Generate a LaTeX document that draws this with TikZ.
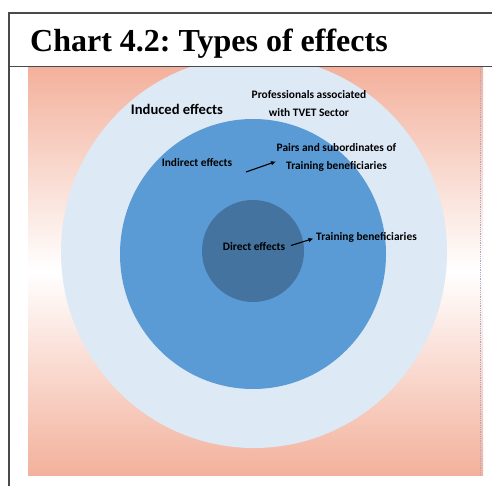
\documentclass[tikz,border=0pt]{standalone}
\usepackage{fontspec}
\setmainfont{Liberation Serif}
\newfontfamily\lblfont{Carlito}
\usetikzlibrary{arrows.meta}
\frenchspacing
\definecolor{frameline}{HTML}{4A4A4A}
\definecolor{salmon}{HTML}{F3B19C}
\definecolor{ringout}{HTML}{DEE9F6}
\definecolor{ringmid}{HTML}{5B9BD5}
\definecolor{ringin}{HTML}{44739F}
\definecolor{dotline}{HTML}{A9A9D0}
\begin{document}
\begin{tikzpicture}[x=1pt,y=-1pt,
  lbl/.style={font=\lblfont\bfseries\fontsize{11.4}{18}\selectfont, text=black, inner sep=0pt, align=center},
  biglbl/.style={lbl, font=\lblfont\bfseries\fontsize{14.6}{16}\selectfont},
  pointer/.style={-{Latex[length=5pt,width=4.5pt]}, line width=1.1pt, black},
  frame/.style={draw=frameline, line width=1.6pt}]
\useasboundingbox (0,0) rectangle (492,486);
% shaded backdrop
\shade[top color=salmon, bottom color=salmon, middle color=white] (28,67) rectangle (483,475);
\draw[dotline, densely dotted, line width=0.8pt] (480,67) -- (480,475);
% three nested rings
\begin{scope}
  \clip (28,67) rectangle (483,475);
  \fill[ringout] (254,252) ellipse [x radius=193, y radius=196];
\end{scope}
\fill[ringmid] (253,254) ellipse [x radius=133, y radius=135];
\fill[ringin] (253,251) circle [radius=51];
% labels
\node[biglbl] (induced) at (177,109) {Induced effects};
\node[lbl] (prof) at (309,104) {Professionals associated\\with TVET Sector};
\node[lbl] (indirect) at (197,163) {Indirect effects};
\node[lbl] (pairs) at (336.5,157) {Pairs and subordinates of\\Training beneficiaries};
\node[lbl] (direct) at (254,247) {Direct effects};
\node[lbl] (trainees) at (366.5,237) {Training beneficiaries};
% pointers
\coordinate (p1s) at (246,172);
\coordinate (p1e) at (276,161.5);
\coordinate (p2s) at (291,245.5);
\coordinate (p2e) at (313.5,238.5);
\draw[pointer] (p1s) -- (p1e);
\draw[pointer] (p2s) -- (p2e);
% frame and title
\draw[frame] (492,13) -- (9,13) -- (9,486);
\draw[frame] (9,66.5) -- (492,66.5);
\node[anchor=base west, font=\bfseries\fontsize{32}{36}\selectfont, inner sep=0pt] (title) at (30,52) {Chart 4.2: Types of effects};
\end{tikzpicture}
\end{document}
